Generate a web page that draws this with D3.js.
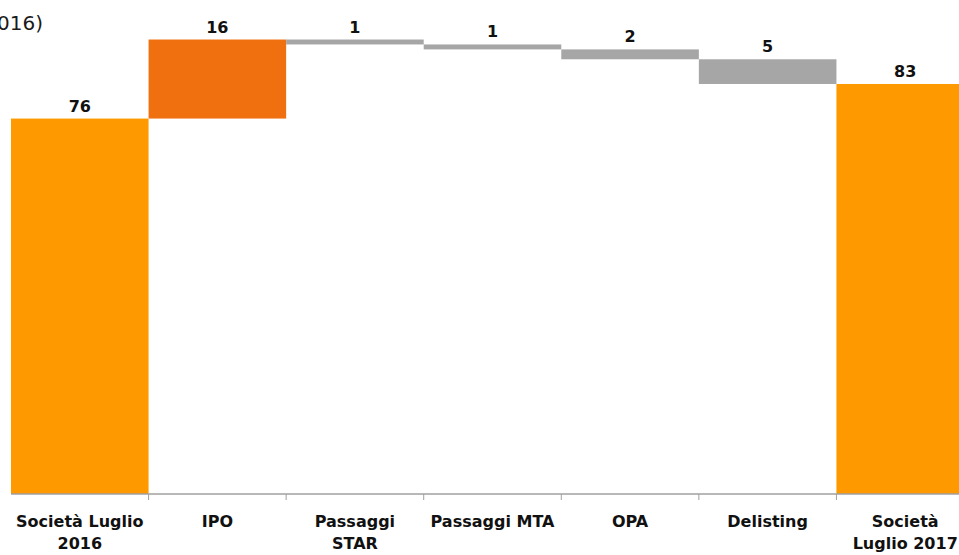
<!DOCTYPE html>
<html>
<head>
<meta charset="utf-8">
<script src="https://cdn.jsdelivr.net/npm/d3@7"></script>
<style>
  body { margin: 0; background: #fff; }
  svg { display: block; }
  .value-label { font-family: "DejaVu Sans", sans-serif; font-weight: bold; font-size: 16px; fill: #111; }
  .cat-label { font-family: "DejaVu Sans", sans-serif; font-weight: bold; font-size: 16px; fill: #111; }
  .title { font-family: "DejaVu Sans", sans-serif; font-size: 20px; fill: #1a1a1a; }
</style>
</head>
<body>
<div id="chart"></div>
<script>
// Dimensions
const width = 959;
const height = 555;

// Data
const categories = ["Società Luglio 2016", "IPO", "Passaggi STAR", "Passaggi MTA", "OPA", "Delisting", "Società Luglio 2017"];
const categoryLines = [["Società Luglio", "2016"], ["IPO"], ["Passaggi", "STAR"], ["Passaggi MTA"], ["OPA"], ["Delisting"], ["Società", "Luglio 2017"]];
const changes = [76, 16, -1, -1, -2, -5, 83];
const kinds = ["total", "increase", "decrease", "decrease", "decrease", "decrease", "total"];
const titleText = "Numero società (Luglio 2017 vs Luglio 2016)";

// Colours
const colours = { total: "#ff9900", increase: "#f07010", decrease: "#a6a6a6" };

// Build waterfall steps
let running = 0;
const steps = categories.map((c, i) => {
    let start, end;
    if (kinds[i] === "total") {
        start = 0;
        end = changes[i];
        running = changes[i];
    } else {
        start = running;
        end = running + changes[i];
        running = end;
    }
    return { category: c, lines: categoryLines[i], kind: kinds[i], value: Math.abs(changes[i]), start, end };
});

// Scales
const x = d3.scaleBand()
    .domain(categories)
    .range([11, 974])
    .padding(0);

const y = d3.scaleLinear()
    .domain([0, 100])
    .range([494, 0]);

const svg = d3.select("#chart").append("svg")
    .attr("width", width)
    .attr("height", height);

// Title (cut off at the left edge, as in the original)
svg.append("text")
    .attr("class", "title")
    .attr("x", 43)
    .attr("y", 30)
    .attr("text-anchor", "end")
    .text(titleText);

// Bars
svg.selectAll(".bar")
    .data(steps)
    .enter()
    .append("rect")
    .attr("class", "bar")
    .attr("x", d => x(d.category))
    .attr("width", x.bandwidth())
    .attr("y", d => y(Math.max(d.start, d.end)))
    .attr("height", d => Math.abs(y(d.start) - y(d.end)))
    .attr("fill", d => colours[d.kind]);

// Value labels
svg.selectAll(".value-label")
    .data(steps)
    .enter()
    .append("text")
    .attr("class", "value-label")
    .attr("x", d => x(d.category) + x.bandwidth() / 2)
    .attr("y", d => y(Math.max(d.start, d.end)) - 7)
    .attr("text-anchor", "middle")
    .text(d => d.value);

// X axis
const axis = svg.append("g")
    .attr("transform", `translate(0, ${y(0)})`);

axis.append("line")
    .attr("x1", x.range()[0])
    .attr("x2", x.range()[1])
    .attr("stroke", "#a0a0a0")
    .attr("stroke-width", 1.5);

axis.selectAll(".tick-line")
    .data(categories.slice(1))
    .enter()
    .append("line")
    .attr("class", "tick-line")
    .attr("x1", d => x(d))
    .attr("x2", d => x(d))
    .attr("y1", 0)
    .attr("y2", 6)
    .attr("stroke", "#a0a0a0")
    .attr("stroke-width", 1);

// Category labels
const catLabels = svg.selectAll(".cat-label")
    .data(steps)
    .enter()
    .append("text")
    .attr("class", "cat-label")
    .attr("text-anchor", "middle")
    .attr("x", d => x(d.category) + x.bandwidth() / 2)
    .attr("y", 527);

catLabels.selectAll("tspan")
    .data(d => d.lines.map(line => ({ line, cx: x(d.category) + x.bandwidth() / 2 })))
    .enter()
    .append("tspan")
    .attr("x", d => d.cx)
    .attr("dy", (d, i) => i === 0 ? 0 : 22)
    .text(d => d.line);
</script>
</body>
</html>
